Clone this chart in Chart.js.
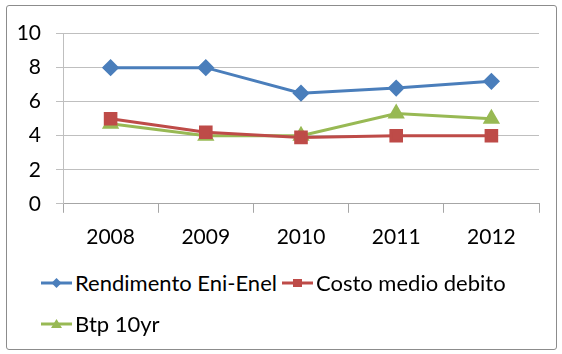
<!DOCTYPE html>
<html>
<head>
<meta charset="utf-8">
<script src="https://cdn.jsdelivr.net/npm/chart.js@4/dist/chart.umd.min.js"></script>
<style>
  body { margin: 0; background: #fff; width: 562px; height: 354px; overflow: hidden; }
  #frame { position: absolute; left: 6px; top: 5px; width: 549px; height: 343px; border: 1px solid #8c8c8c; border-radius: 3px; }
  #wrap { position: absolute; left: 7px; top: 6px; width: 548px; height: 256px; }
  #legend { position: absolute; left: 41px; top: 262px; width: 492px; font-family: Lato, sans-serif; font-size: 22px; color: #000; }
  .item { display: inline-flex; align-items: center; height: 41px; margin-right: 5px; vertical-align: top; }
  .item canvas { margin-right: 3px; }
</style>
</head>
<body>
<div id="frame"></div>
<div id="wrap"><canvas id="myChart"></canvas></div>
<div id="legend"></div>
<script>
const ctx = document.getElementById('myChart');

// values
var years = ['2008', '2009', '2010', '2011', '2012'];
var rendimento = [8, 8, 6.5, 6.8, 7.2];
var costoDebito = [5, 4.2, 3.9, 4, 4];
var btp10 = [4.7, 4, 4, 5.3, 5];

var blue = '#4a7ebb';
var red = '#be4b48';
var green = '#98b954';

Chart.defaults.font.family = 'Lato';
Chart.defaults.font.size = 21;
Chart.defaults.color = '#000';

const myChart = new Chart(ctx, {
    type: 'line',
    data: {
        labels: years,
        datasets: [{
            label: 'Rendimento Eni-Enel',
            data: rendimento,
            borderColor: blue,
            backgroundColor: blue,
            pointStyle: 'rectRot',
            pointRadius: 6.5,
            borderWidth: 3
        }, {
            label: 'Costo medio debito',
            data: costoDebito,
            borderColor: red,
            backgroundColor: red,
            pointStyle: 'rect',
            pointRadius: 7.5,
            borderWidth: 3
        }, {
            label: 'Btp 10yr',
            data: btp10,
            borderColor: green,
            backgroundColor: green,
            pointStyle: 'triangle',
            pointRadius: 7,
            borderWidth: 3
        }]
    },
    options: {
        responsive: true,
        maintainAspectRatio: false,
        animation: false,
        layout: {
            padding: { left: 0, right: 16, top: 10, bottom: 0 }
        },
        plugins: {
            legend: { display: false },
            tooltip: { enabled: false }
        },
        scales: {
            x: {
                offset: true,
                grid: {
                    offset: true,
                    drawOnChartArea: false,
                    tickLength: 9,
                    color: '#a6a6a6'
                },
                border: { color: '#a6a6a6' },
                ticks: { padding: 12 }
            },
            y: {
                min: 0,
                max: 10,
                ticks: { stepSize: 2, padding: 15 },
                grid: { color: '#bfbfbf', tickLength: 7 },
                border: { color: '#bfbfbf' },
                afterFit: function (scale) { scale.width = 56; }
            }
        }
    }
});

// html legend: line with marker, then the label
var legendBox = document.getElementById('legend');
myChart.data.datasets.forEach(function (ds) {
    var item = document.createElement('span');
    item.className = 'item';
    var icon = document.createElement('canvas');
    icon.width = 31;
    icon.height = 20;
    var c = icon.getContext('2d');
    c.strokeStyle = ds.borderColor;
    c.fillStyle = ds.borderColor;
    c.lineWidth = 3;
    c.beginPath();
    c.moveTo(0, 10);
    c.lineTo(31, 10);
    c.stroke();
    c.beginPath();
    if (ds.pointStyle === 'rectRot') {
        c.moveTo(15.5, 5); c.lineTo(20.5, 10); c.lineTo(15.5, 15); c.lineTo(10.5, 10);
    } else if (ds.pointStyle === 'rect') {
        c.rect(11, 6, 9, 8);
    } else {
        c.moveTo(15.5, 5); c.lineTo(21, 14); c.lineTo(10, 14);
    }
    c.closePath();
    c.fill();
    item.appendChild(icon);
    var txt = document.createElement('span');
    txt.textContent = ds.label;
    item.appendChild(txt);
    legendBox.appendChild(item);
});
</script>
</body>
</html>
